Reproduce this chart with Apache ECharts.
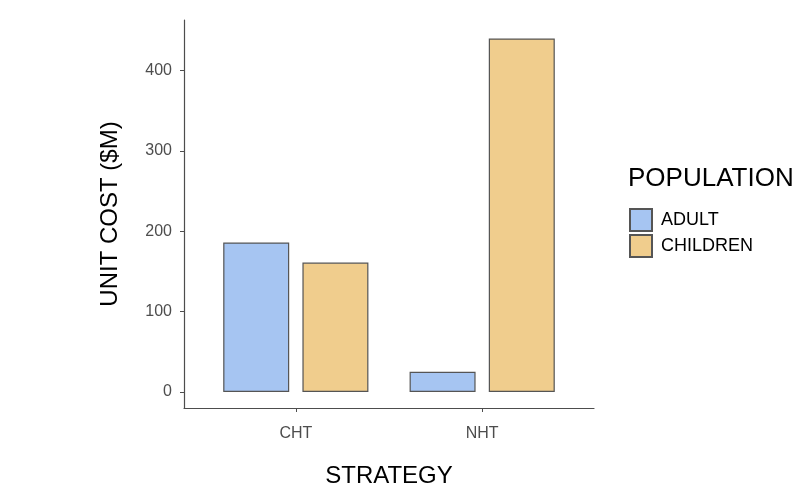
<!DOCTYPE html>
<html>
<head>
	<meta charset="UTF-8">
	<title></title>
	<script src="https://cdn.jsdelivr.net/npm/echarts@6/dist/echarts.min.js"></script>
	<style>
		html, body { margin: 0; padding: 0; background: #fff; }
		#chart { width: 797px; height: 485px; }
	</style>
</head>
<body>
<div id="chart"></div>
<script>
// strategies on the x axis, at positions 1 and 2
var strategies = ['CHT', 'NHT'];
var adultCost = [186, 25];
var childrenCost = [161, 440];
var yTicks = [0, 100, 200, 300, 400];

function toPairs(vals) {
	var out = [];
	for (var i = 0; i < vals.length; i++) {
		out.push([i + 1, vals[i]]);
	}
	return out;
}

var myChart = echarts.init(document.getElementById('chart'));
var axisColor = '#4d4d4d';
var option = {
	animation: false,
	textStyle: { fontFamily: 'Liberation Sans, Arial, sans-serif' },
	title: {
		text: 'POPULATION',
		left: 623,
		top: 161,
		textStyle: { fontSize: 26, fontWeight: 'normal', color: '#000' }
	},
	legend: {
		orient: 'vertical',
		left: 624,
		top: 203,
		itemWidth: 22,
		itemHeight: 22,
		itemGap: 2,
		icon: 'rect',
		textStyle: { fontSize: 18, color: '#000', padding: [0, 0, 0, 4] },
		data: ['ADULT', 'CHILDREN']
	},
	grid: { left: 184, right: 203, top: 20, bottom: 77, outerBoundsMode: 'none' },
	xAxis: {
		type: 'value',
		min: 0.4,
		max: 2.6,
		name: 'STRATEGY',
		nameLocation: 'middle',
		nameGap: 56,
		nameTextStyle: { fontSize: 24, color: '#000' },
		splitLine: { show: false },
		axisLine: { show: true, onZero: false, lineStyle: { color: axisColor, width: 1.2 } },
		axisTick: { show: true, length: 4, customValues: [1, 2], lineStyle: { color: axisColor } },
		axisLabel: {
			customValues: [1, 2],
			fontSize: 16,
			color: axisColor,
			margin: 18,
			formatter: function (v) { return strategies[Math.round(v) - 1] || ''; }
		}
	},
	yAxis: {
		type: 'value',
		min: -20,
		max: 463,
		name: 'UNIT COST ($M)',
		nameLocation: 'middle',
		nameGap: 62,
		nameTextStyle: { fontSize: 24, color: '#000' },
		splitLine: { show: false },
		axisLine: { show: true, onZero: false, lineStyle: { color: axisColor, width: 1.2 } },
		axisTick: { show: true, length: 4, customValues: yTicks, lineStyle: { color: axisColor } },
		axisLabel: { customValues: yTicks, fontSize: 16, color: axisColor, margin: 12 }
	},
	series: [
		{
			name: 'ADULT',
			type: 'bar',
			barWidth: 66,
			barGap: '20%',
			data: toPairs(adultCost),
			itemStyle: { color: '#a6c5f2', borderColor: '#555', borderWidth: 1.2 }
		},
		{
			name: 'CHILDREN',
			type: 'bar',
			barWidth: 66,
			barGap: '20%',
			data: toPairs(childrenCost),
			itemStyle: { color: '#f0cd8d', borderColor: '#555', borderWidth: 1.2 }
		}
	]
};
myChart.setOption(option);
</script>
</body>
</html>
